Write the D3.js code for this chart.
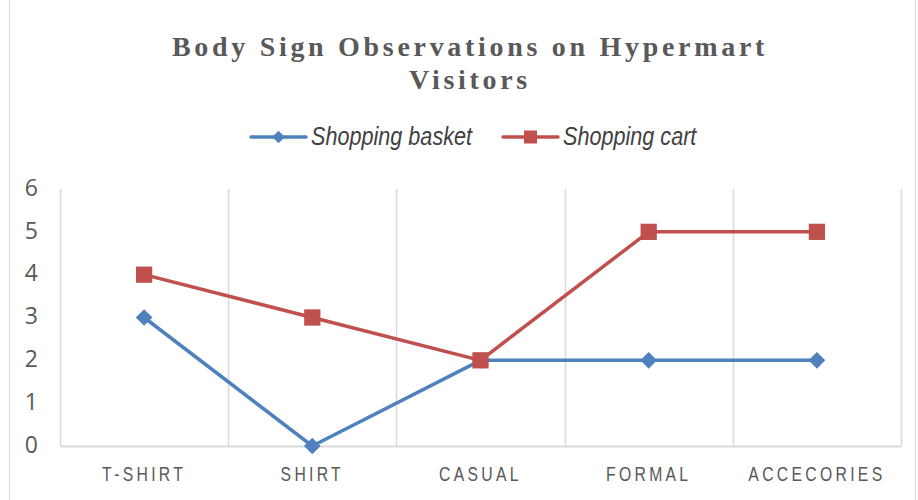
<!DOCTYPE html>
<html>
<head>
<meta charset="utf-8">
<script src="https://cdn.jsdelivr.net/npm/d3@7"></script>
<style>
  body { margin: 0; background: #fff; }
</style>
</head>
<body>
<div class="chart"></div>
<script>
var categories = ["T-SHIRT", "SHIRT", "CASUAL", "FORMAL", "ACCECORIES"];
var basketValues = [3, 0, 2, 2, 2];
var cartValues = [4, 3, 2, 5, 5];
var yTicks = [0, 1, 2, 3, 4, 5, 6];
var seriesNames = ["Shopping basket", "Shopping cart"];

var svgWidth = 918;
var svgHeight = 500;
var margin = { top: 189, right: 17, bottom: 54, left: 60 };
var width = svgWidth - margin.left - margin.right;
var height = svgHeight - margin.top - margin.bottom;

var blue = "#4f81bd";
var red = "#c0504d";

var svg = d3.select(".chart").append("svg")
  .attr("width", svgWidth)
  .attr("height", svgHeight)
  .style("display", "block");

// outer chart frame
svg.append("rect")
  .attr("x", 9.5).attr("y", -1)
  .attr("width", svgWidth - 12).attr("height", svgHeight + 2)
  .attr("fill", "#fff").attr("stroke", "#d9d9d9");

// title
var title = svg.append("text")
  .attr("text-anchor", "middle")
  .attr("font-family", "'Liberation Serif', 'Times New Roman', serif")
  .attr("font-weight", "bold")
  .attr("font-size", 28)
  .attr("letter-spacing", 3.7)
  .attr("fill", "#595959");
title.append("tspan").attr("x", 470).attr("y", 56).text("Body Sign Observations on Hypermart");
title.append("tspan").attr("x", 470).attr("y", 89).text("Visitors");

var chart = svg.append("g")
  .attr("transform", "translate(" + margin.left + "," + margin.top + ")");

var x = d3.scaleBand().domain(categories).range([0, width]).padding(0);
var y = d3.scaleLinear().domain([0, 6]).range([height, 0]);

// vertical gridlines at category boundaries
var bounds = categories.map(function(c) { return x(c); }).concat([width]);
chart.selectAll(".vgrid")
  .data(bounds)
  .enter()
  .append("line")
  .attr("class", "vgrid")
  .attr("x1", function(d) { return Math.round(d) + 0.5; })
  .attr("x2", function(d) { return Math.round(d) + 0.5; })
  .attr("y1", 0)
  .attr("y2", height)
  .attr("stroke", "#d9d9d9")
  .attr("stroke-width", 1.5);

// bottom axis
var bottomAxis = d3.axisBottom(x).tickSize(0).tickPadding(20);
var xAxisG = chart.append("g")
  .attr("transform", "translate(0," + height + ")")
  .call(bottomAxis);
xAxisG.select(".domain").attr("stroke", "#d9d9d9").attr("stroke-width", 2);
xAxisG.selectAll("text")
  .attr("font-family", "'Liberation Sans', Arial, sans-serif")
  .attr("font-size", 21)
  .attr("letter-spacing", 4.4)
  .attr("transform", "scale(0.75,1)")
  .attr("fill", "#595959");

// left axis
var leftAxis = d3.axisLeft(y).tickValues(yTicks).tickFormat(d3.format("d")).tickSize(0).tickPadding(22);
var yAxisG = chart.append("g").call(leftAxis);
yAxisG.select(".domain").remove();
yAxisG.selectAll("text")
  .attr("font-family", "'Open Sans', 'Liberation Sans', sans-serif")
  .attr("font-size", 23)
  .attr("dy", "0.27em")
  .attr("fill", "#595959");

var line = d3.line()
  .x(function(d, i) { return x(categories[i]) + x.bandwidth() / 2; })
  .y(function(d) { return y(d); });

chart.append("path").datum(basketValues)
  .attr("d", line).attr("fill", "none")
  .attr("stroke", blue).attr("stroke-width", 3.5).attr("stroke-linejoin", "round");
chart.append("path").datum(cartValues)
  .attr("d", line).attr("fill", "none")
  .attr("stroke", red).attr("stroke-width", 3.5).attr("stroke-linejoin", "round");

chart.selectAll(".basket-pt")
  .data(basketValues)
  .enter()
  .append("path")
  .attr("class", "basket-pt")
  .attr("d", d3.symbol().type(d3.symbolSquare).size(140))
  .attr("transform", function(d, i) {
    return "translate(" + (x(categories[i]) + x.bandwidth() / 2) + "," + y(d) + ") rotate(45)";
  })
  .attr("fill", blue);

chart.selectAll(".cart-pt")
  .data(cartValues)
  .enter()
  .append("path")
  .attr("class", "cart-pt")
  .attr("d", d3.symbol().type(d3.symbolSquare).size(264))
  .attr("transform", function(d, i) {
    return "translate(" + (x(categories[i]) + x.bandwidth() / 2) + "," + y(d) + ")";
  })
  .attr("fill", red);

// legend
var legend = svg.append("g").attr("transform", "translate(0,137)");
var legendItems = [
  { name: seriesNames[0], color: blue, x: 251, shape: "diamond" },
  { name: seriesNames[1], color: red, x: 503, shape: "square" }
];
legendItems.forEach(function(item) {
  var g = legend.append("g").attr("transform", "translate(" + item.x + ",0)");
  g.append("line").attr("x1", 0).attr("x2", 55).attr("y1", 0).attr("y2", 0)
    .attr("stroke", item.color).attr("stroke-width", 3.5).attr("stroke-linecap", "round");
  g.append("path")
    .attr("d", d3.symbol().type(d3.symbolSquare).size(item.shape === "square" ? 169 : 80)())
    .attr("transform", "translate(27.5,0)" + (item.shape === "square" ? "" : " rotate(45)"))
    .attr("fill", item.color);
  g.append("text")
    .attr("transform", "translate(60,8) scale(0.865,1)")
    .attr("font-family", "'Liberation Sans', Arial, sans-serif")
    .attr("font-style", "italic")
    .attr("font-size", 25)
    .attr("fill", "#404040")
    .text(item.name);
});
</script>
</body>
</html>
